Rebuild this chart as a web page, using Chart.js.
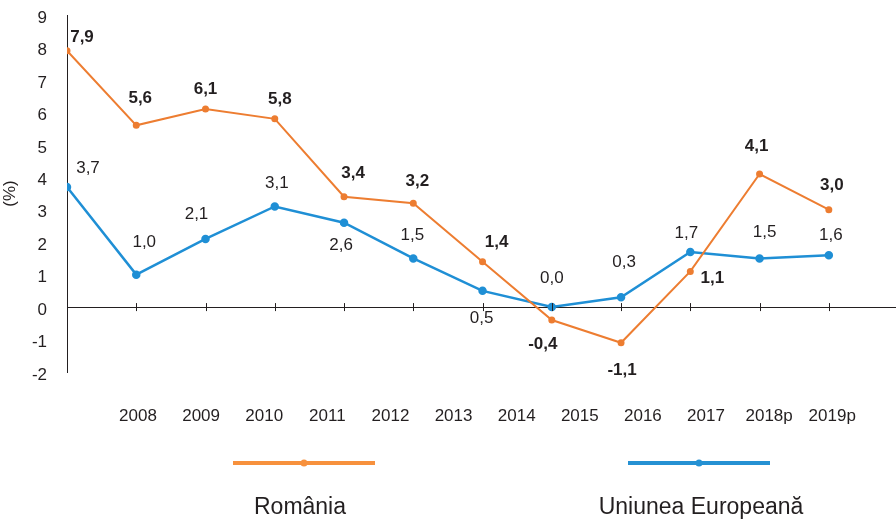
<!DOCTYPE html>
<html>
<head>
<meta charset="utf-8">
<script src="https://cdn.jsdelivr.net/npm/chart.js@4"></script>
<style>
  body { margin: 0; background: #fff; }
  #wrap { width: 896px; height: 519px; position: relative; }
</style>
</head>
<body>
<div id="wrap"><canvas id="chartCrestere"></canvas></div>
<script>
// Date
const ani = ['2008', '2009', '2010', '2011', '2012', '2013', '2014', '2015', '2016', '2017', '2018p', '2019p'];
const valoriRomania = [7.9, 5.6, 6.1, 5.8, 3.4, 3.2, 1.4, -0.4, -1.1, 1.1, 4.1, 3.0];
const valoriUE = [3.7, 1.0, 2.1, 3.1, 2.6, 1.5, 0.5, 0.0, 0.3, 1.7, 1.5, 1.6];
const etichetaRomania = 'România';
const etichetaUE = 'Uniunea Europeană';

// decalajul etichetelor fata de puncte (px)
const decalajRomania = [[15, -13], [4, -27], [0, -20], [5, -20], [9, -23], [4, -22], [14, -19], [-9, 24], [1, 28], [22, 7], [-3, -28], [3, -24]];
const decalajUE = [[21, -19], [8, -32], [-9, -25], [2, -23], [-3, 23], [-1, -23], [-1, 27], [0, -29], [3, -35], [-4, -19], [5, -26], [2, -20]];

const culoareText = '#231f20';
const fontFam = '"Liberation Sans", Arial, sans-serif';

const etichetePlugin = {
    id: 'etichete',
    afterDatasetsDraw(chart) {
        const ctx = chart.ctx;
        ctx.save();
        ctx.textAlign = 'center';
        ctx.textBaseline = 'middle';
        ctx.fillStyle = culoareText;
        chart.data.datasets.forEach((ds, di) => {
            const meta = chart.getDatasetMeta(di);
            const dec = di === 0 ? decalajRomania : decalajUE;
            ctx.font = (di === 0 ? 'bold ' : '') + '17px ' + fontFam;
            meta.data.forEach((pt, i) => {
                const txt = ds.data[i].y.toFixed(1).replace('.', ',');
                ctx.fillText(txt, pt.x + dec[i][0], pt.y + dec[i][1]);
            });
        });
        ctx.restore();
    }
};

// tick-urile axei X trec prin linia axei (sus si jos)
const tickuriPlugin = {
    id: 'tickuri',
    afterDraw(chart) {
        const sx = chart.scales.x;
        const y0 = chart.scales.y.getPixelForValue(0);
        const ctx = chart.ctx;
        ctx.save();
        ctx.strokeStyle = '#231f20';
        ctx.lineWidth = 1;
        sx.ticks.forEach((t) => {
            const px = Math.round(sx.getPixelForValue(t.value)) + 0.5;
            ctx.beginPath();
            ctx.moveTo(px, y0 - 4);
            ctx.lineTo(px, y0 + 4);
            ctx.stroke();
        });
        ctx.restore();
    }
};

// legenda: linie cu marcaj, textul dedesubt
const legendaPlugin = {
    id: 'legenda',
    afterDraw(chart) {
        const ctx = chart.ctx;
        const items = [
            { x1: 233, x2: 375, cx: 304, tx: 300, color: '#f7913d' },
            { x1: 628, x2: 770, cx: 699, tx: 701, color: '#2591d3' }
        ];
        ctx.save();
        items.forEach((it, i) => {
            ctx.strokeStyle = it.color;
            ctx.lineWidth = 4;
            ctx.beginPath();
            ctx.moveTo(it.x1, 463);
            ctx.lineTo(it.x2, 463);
            ctx.stroke();
            ctx.fillStyle = it.color;
            ctx.beginPath();
            ctx.arc(it.cx, 463, 3.5, 0, Math.PI * 2);
            ctx.fill();
            ctx.fillStyle = culoareText;
            ctx.font = '23px ' + fontFam;
            ctx.textAlign = 'center';
            ctx.textBaseline = 'middle';
            ctx.fillText(chart.data.datasets[i].label, it.tx, 508);
        });
        ctx.restore();
    }
};

const faraPadding = (scale) => {
    scale.paddingLeft = 0;
    scale.paddingRight = 0;
    scale.paddingTop = 0;
    scale.paddingBottom = 0;
};

const canvas = document.getElementById('chartCrestere');

new Chart(canvas, {
    type: 'line',
    data: {
        datasets: [{
            label: etichetaRomania,
            data: valoriRomania.map((v, i) => ({ x: i, y: v })),
            borderColor: '#ed7d31',
            backgroundColor: '#ed7d31',
            borderWidth: 2,
            pointRadius: 2.5,
            pointHoverRadius: 2.5
        }, {
            label: etichetaUE,
            data: valoriUE.map((v, i) => ({ x: i, y: v })),
            borderColor: '#1f8fd5',
            backgroundColor: '#1f8fd5',
            borderWidth: 2.5,
            pointRadius: 3,
            pointHoverRadius: 3
        }]
    },
    options: {
        responsive: true,
        maintainAspectRatio: false,
        animation: false,
        layout: { autoPadding: false, padding: { top: 15, right: 0, bottom: 93, left: 0 } },
        plugins: {
            legend: { display: false },
            tooltip: { enabled: false }
        },
        scales: {
            x: {
                type: 'linear',
                min: 0,
                max: 11.97,
                position: { y: 0 },
                border: { color: '#231f20', width: 1 },
                grid: { display: false },
                afterFit: faraPadding,
                ticks: { display: false, stepSize: 1, includeBounds: false }
            },
            xAni: {
                type: 'linear',
                position: 'bottom',
                min: -1.125,
                max: 12.01,
                border: { display: false },
                grid: { display: false, drawTicks: false },
                afterBuildTicks: (scale) => {
                    scale.ticks = ani.map((a, i) => ({ value: i }));
                },
                afterFit: (scale) => {
                    scale.height = 54;
                    faraPadding(scale);
                },
                ticks: {
                    color: culoareText,
                    font: { family: fontFam, size: 17 },
                    padding: 34,
                    maxRotation: 0,
                    autoSkip: false,
                    callback: (v) => ani[v]
                }
            },
            y: {
                min: -2,
                max: 9,
                border: { color: '#231f20', width: 1 },
                grid: { display: false },
                afterFit: (scale) => {
                    scale.width = 67;
                    faraPadding(scale);
                },
                ticks: {
                    stepSize: 1,
                    color: culoareText,
                    font: { family: fontFam, size: 17 },
                    padding: 12,
                    labelOffset: 3
                },
                title: {
                    display: true,
                    text: '(%)',
                    color: culoareText,
                    font: { family: fontFam, size: 17 },
                    padding: 0
                }
            }
        }
    },
    plugins: [etichetePlugin, tickuriPlugin, legendaPlugin]
});
</script>
</body>
</html>
